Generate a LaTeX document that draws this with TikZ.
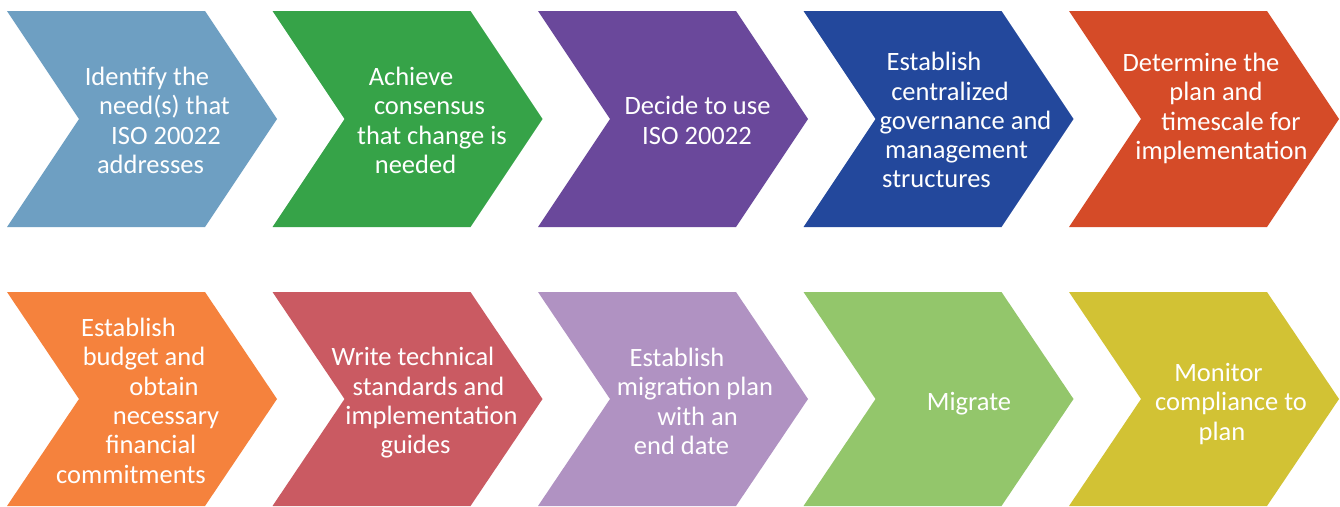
\documentclass[tikz,border=0pt]{standalone}
\usepackage{fontspec}
\setmainfont{Carlito}
\usepackage{tikz}

\definecolor{isoBlue}{HTML}{6E9FC2}
\definecolor{isoGreen}{HTML}{36A348}
\definecolor{isoPurple}{HTML}{6A489B}
\definecolor{isoNavy}{HTML}{23489C}
\definecolor{isoRed}{HTML}{D54B28}
\definecolor{isoOrange}{HTML}{F5823D}
\definecolor{isoRose}{HTML}{CA5A62}
\definecolor{isoLilac}{HTML}{B092C2}
\definecolor{isoLime}{HTML}{93C66B}
\definecolor{isoOlive}{HTML}{D2C234}

% shift one line of a label sideways
\newcommand{\lineshift}[1]{\strut\hspace*{#1pt}\hspace*{#1pt}}

\tikzset{lbl/.style={text=white, align=center, inner sep=0pt,
    font=\fontsize{26.5}{29.3}\selectfont}}

\begin{document}
\begin{tikzpicture}[x=1pt,y=-1pt]
    \fill[white] (0,0) rectangle (1340,506);
    % first row
    \foreach \x/\c in {7/isoBlue,272.5/isoGreen,538/isoPurple,803.5/isoNavy,1069/isoRed}
      \fill[\c] (\x,11) -- ++(198,0) -- ++(72,108) -- ++(-72,108) -- ++(-198,0) -- ++(72,-108) -- cycle;
    % second row
    \foreach \x/\c in {7/isoOrange,272.5/isoRose,538/isoLilac,803.5/isoLime,1069/isoOlive}
      \fill[\c] (\x,292) -- ++(198,0) -- ++(72,107) -- ++(-72,107) -- ++(-198,0) -- ++(72,-107) -- cycle;

    \node[lbl] (need) at (142,123.5) {\lineshift{5}Identify the\\ \lineshift{22.5}need(s) that\\
      \lineshift{24}ISO 20022\\ \lineshift{8.5}addresses};
    \node[lbl] (consensus) at (407.5,123.5) {\lineshift{3.5}Achieve\\ \lineshift{22}consensus\\
      \lineshift{24.5}that change is\\ \lineshift{8}needed};
    \node[lbl] (decide) at (673,123.5) {\lineshift{24.5}Decide to use\\ \lineshift{24}ISO 20022};
    \node[lbl] (governance) at (938.5,123.5) {\lineshift{-4.5}Establish\\ \lineshift{11.5}centralized\\
      \lineshift{27}governance and\\ \lineshift{18}management\\ \lineshift{-2}structures};
    \node[lbl] (plan) at (1204,109.5) {\lineshift{-3}Determine the\\ \lineshift{12}plan and\\
      \lineshift{27}timescale for\\ \lineshift{17.5}implementation};

    \node[lbl] (budget) at (142,404) {\lineshift{-13.5}Establish\\ \lineshift{2}budget and\\
      \lineshift{22}obtain\\ \lineshift{24}necessary\\ \lineshift{9}financial\\ \lineshift{-11}commitments};
    \node[lbl] (standards) at (407.5,404) {\lineshift{5.5}Write technical\\ \lineshift{21}standards and\\
      \lineshift{24}implementation\\ \lineshift{8}guides};
    \node[lbl] (migration) at (673,404.5) {\lineshift{4}Establish\\ \lineshift{22}migration plan\\
      \lineshift{24.5}with an\\ \lineshift{8.5}end date};
    \node[lbl] (migrate) at (938.5,405) {\lineshift{30.5}Migrate};
    \node[lbl] (monitor) at (1204,405) {\lineshift{14.5}Monitor\\ \lineshift{27}compliance to\\
      \lineshift{18}plan};
\end{tikzpicture}
\end{document}
